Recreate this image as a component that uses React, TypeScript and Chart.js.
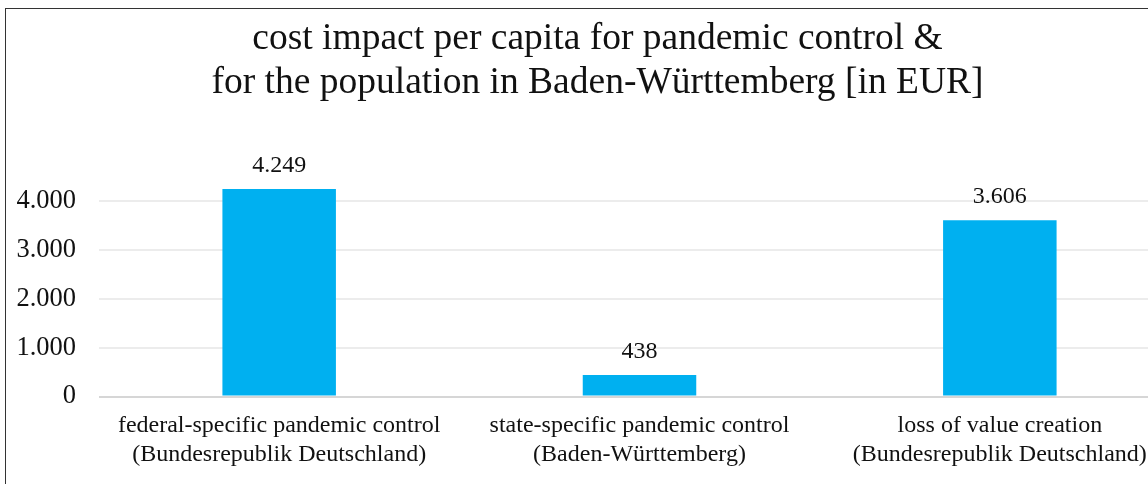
import React, { useEffect, useRef } from "react";
import { Chart, registerables } from "chart.js";

Chart.register(...registerables);

const categories: string[][] = [
  ["federal-specific pandemic control", "(Bundesrepublik Deutschland)"],
  ["state-specific pandemic control", "(Baden-Württemberg)"],
  ["loss of value creation", "(Bundesrepublik Deutschland)"],
];
const values: number[] = [4249, 438, 3606];
const titleLines: string[] = [
  "cost impact per capita for pandemic control &",
  "for the population in Baden-Württemberg [in EUR]",
];

const FONT = "'Liberation Serif', 'Times New Roman', serif";
const TEXT = "#111111";
const fmt = (v: number) => String(Math.round(v)).replace(/\B(?=(\d{3})+(?!\d))/g, ".");

const labelPlugin = {
  id: "barLabels",
  afterDatasetsDraw(chart: any) {
    const ctx = chart.ctx;
    const meta = chart.getDatasetMeta(0);
    ctx.save();
    ctx.font = `24px ${FONT}`;
    ctx.fillStyle = TEXT;
    ctx.textAlign = "center";
    ctx.textBaseline = "alphabetic";
    meta.data.forEach((el: any, i: number) => {
      ctx.fillText(fmt(values[i]), el.x, el.y - 17);
    });
    ctx.restore();
  },
};

export default function App() {
  const ref = useRef<HTMLCanvasElement>(null);
  useEffect(() => {
    if (!ref.current) return;
    const chart = new Chart(ref.current, {
      type: "bar",
      data: {
        labels: categories,
        datasets: [
          {
            data: values,
            backgroundColor: "#00B0F0",
            barPercentage: 0.63,
            categoryPercentage: 0.5,
          },
        ],
      },
      options: {
        animation: false,
        responsive: false,
        maintainAspectRatio: false,
        layout: { padding: { left: 15, right: 20, top: 18, bottom: 0 } },
        plugins: {
          legend: { display: false },
          tooltip: { enabled: false },
          title: {
            display: true,
            text: titleLines,
            color: TEXT,
            font: { family: FONT, size: 37.5, weight: "normal", lineHeight: 1.15 },
            padding: { top: 0, bottom: 48 },
          },
        },
        scales: {
          x: {
            grid: { display: false, drawTicks: false },
            border: { display: false },
            afterFit: (axis: any) => {
              axis.height = 87.5;
            },
            ticks: {
              color: TEXT,
              font: { family: FONT, size: 24, lineHeight: 1.2 },
              padding: 15,
              maxRotation: 0,
              autoSkip: false,
            },
          },
          y: {
            min: 0,
            max: 5000,
            afterBuildTicks: (axis: any) => {
              axis.ticks = axis.ticks.filter((t: any) => t.value % 1000 === 0 && t.value <= 4000);
            },
            afterFit: (axis: any) => {
              axis.width = 84;
            },
            grid: {
              drawTicks: false,
              color: (c: any) => (c.tick && c.tick.value === 0 ? "#d6d6d6" : "#ececec"),
              lineWidth: 2,
            },
            border: { display: false },
            ticks: {
              stepSize: 1000,
              color: TEXT,
              font: { family: FONT, size: 26.5 },
              padding: 23,
              callback: (v: any) => fmt(Number(v)),
            },
          },
        },
      },
      plugins: [labelPlugin],
    });
    return () => chart.destroy();
  }, []);
  return (
    <div style={{ position: "fixed", left: 0, top: 0, width: 1148, height: 484, overflow: "hidden", background: "#fff" }}>
      <div
        style={{
          position: "absolute",
          left: 5,
          top: 8,
          width: 1300,
          height: 600,
          border: "1.5px solid #333",
          boxSizing: "border-box",
        }}
      />
      <canvas ref={ref} width={1200} height={484} style={{ position: "absolute", left: 0, top: 0 }} />
    </div>
  );
}
